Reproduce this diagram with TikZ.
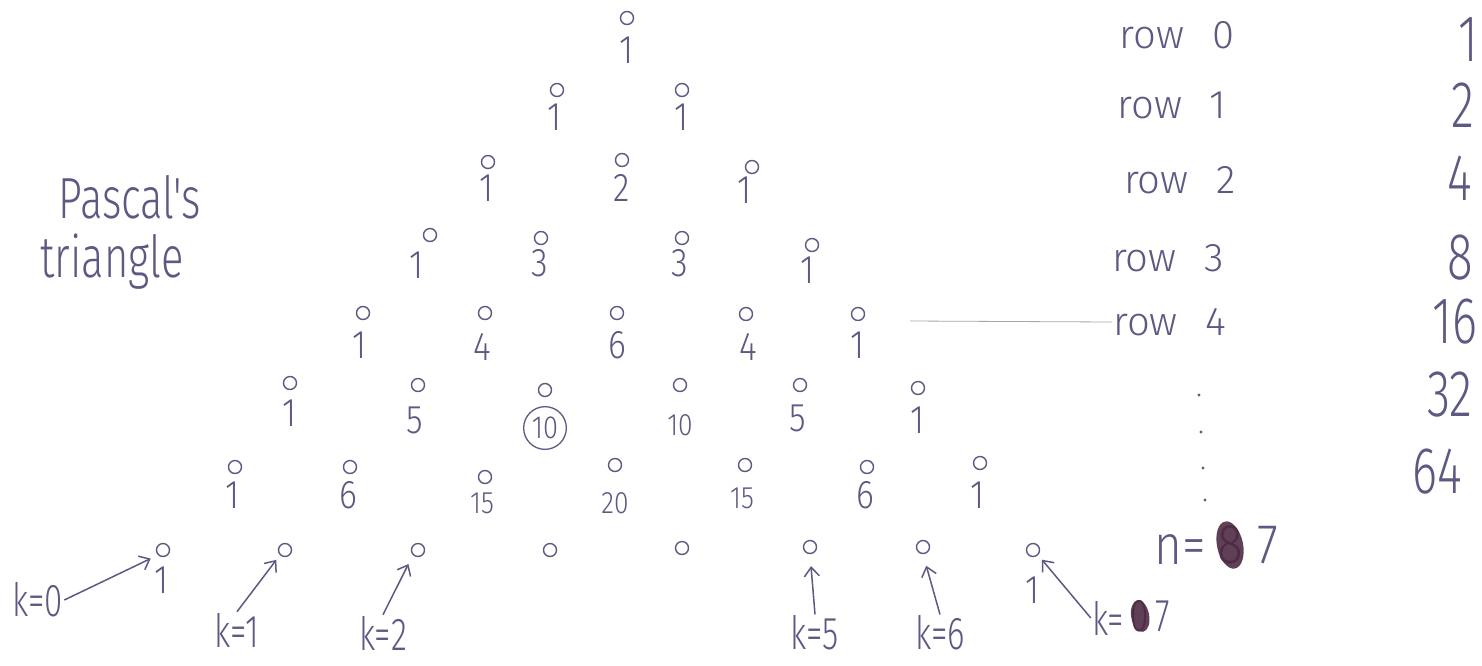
\documentclass[tikz,border=0pt]{standalone}
\usepackage{fontspec}
\usetikzlibrary{arrows.meta}
\IfFontExistsTF{Fira Sans Light}{%
  \setmainfont{Fira Sans Light}%
  \newfontfamily\handn[FakeStretch=0.72]{Fira Sans Light}%
  \newfontfamily\handm[FakeStretch=0.85]{Fira Sans Light}%
}{%
  \setmainfont{Liberation Sans}%
  \newfontfamily\handn[FakeStretch=0.72]{Liberation Sans}%
  \newfontfamily\handm[FakeStretch=0.85]{Liberation Sans}%
}
\definecolor{ink}{RGB}{92,90,130}
\definecolor{scrib}{RGB}{78,44,68}
\definecolor{guide}{RGB}{165,165,175}
\tikzset{
  dot/.style={circle,draw=ink,line width=1.4pt,minimum size=13pt,inner sep=0pt},
  num/.style={text=ink,inner sep=1pt,font=\handm\fontsize{40}{40}\selectfont},
  nums/.style={text=ink,inner sep=1pt,font=\handm\fontsize{31}{31}\selectfont},
  numc/.style={text=ink,circle,draw=ink,line width=1.3pt,inner sep=3pt,font=\handm\fontsize{32}{32}\selectfont},
  rowlab/.style={text=ink,inner sep=1pt,font=\fontsize{40}{40}\selectfont},
  sumlab/.style={text=ink,inner sep=1pt,font=\handn\fontsize{66}{66}\selectfont},
  klab/.style={text=ink,inner sep=1pt,font=\handn\fontsize{46}{46}\selectfont},
  nlab/.style={text=ink,inner sep=1pt,font=\handm\fontsize{56}{56}\selectfont},
  titlelab/.style={text=ink,inner sep=1pt,font=\handn\fontsize{58}{58}\selectfont},
  arr/.style={draw=ink,line width=1.5pt,-{Straight Barb[length=9pt,width=15pt]}},
  guideline/.style={draw=guide,line width=0.8pt},
  blob/.style={fill=scrib,fill opacity=0.9},
  vdot/.style={circle,fill=ink,inner sep=0pt,minimum size=3.2pt}
}
\begin{document}
\begin{tikzpicture}[x=1pt,y=-1pt]
\useasboundingbox (0,0) rectangle (1482,665);
\fill[white] (0,0) rectangle (1482,665);

% title
\node[titlelab] (t1) at (130,197) {Pascal's};
\node[titlelab] (t2) at (112,262) {triangle};

% small circles of the triangle
\foreach \nm/\x/\y in {00/627/18, 10/557/90, 11/682/90, 20/488/162, 21/622/160, 22/752/167,
  30/430/235, 31/541/238, 32/682/238, 33/812/245,
  40/363/313, 41/485/313, 42/617/313, 43/746/314, 44/858/314,
  50/290/383, 51/418/385, 52/545/390, 53/680/385, 54/800/385, 55/918/388,
  60/235/467, 61/350/467, 62/485/477, 63/615/465, 64/745/465, 65/867/467, 66/980/463,
  70/163/550, 71/285/550, 72/418/550, 73/550/550, 74/682/548, 75/810/547, 76/923/547, 77/1033/550}
  {\node[dot] (c\nm) at (\x,\y) {};}

% numbers
\foreach \nm/\x/\y/\t in {00/627/50/1, 10/555/117/1, 11/682/117/1,
  20/487/188/1, 21/622/188/2, 22/745/190/1,
  30/417/265/1, 31/540/263/3, 32/680/263/3, 33/808/270/1,
  40/360/345/1, 41/482/347/4, 42/617/345/6, 43/748/347/4, 44/858/345/1,
  50/290/413/1, 51/415/420/5, 54/798/418/5, 55/918/420/1,
  60/233/495/1, 61/348/495/6, 65/865/495/6, 66/978/495/1,
  70/162/580/1, 77/1033/590/1}
  {\node[num] (v\nm) at (\x,\y) {\t};}
\foreach \nm/\x/\y/\t in {53/680/425/10, 62/482/503/15, 63/615/503/20, 64/742/498/15}
  {\node[nums] (v\nm) at (\x,\y) {\t};}
\node[numc] (v52) at (545,428) {10};

% row labels
\node[rowlab] (row0) at (1177,35) {row\hspace{28pt}0};
\node[rowlab] (row1) at (1172,105) {row\hspace{28pt}1};
\node[rowlab] (row2) at (1180,180) {row\hspace{28pt}2};
\node[rowlab] (row3) at (1168,258) {row\hspace{28pt}3};
\node[rowlab] (row4) at (1170,322) {row\hspace{28pt}4};
\coordinate (g4) at (910,321);
\draw[guideline] (g4) -- (row4.west);

% vertical dots
\node[vdot] (d1) at (1199,395) {};
\node[vdot] (d2) at (1201,432) {};
\node[vdot] (d3) at (1203,468) {};
\node[vdot] (d4) at (1205,500) {};

% row sums
\node[sumlab] (s0) at (1468,40) {1};
\node[sumlab] (s1) at (1463,105) {2};
\node[sumlab] (s2) at (1460,178) {4};
\node[sumlab] (s3) at (1460,258) {8};
\node[sumlab] (s4) at (1455,322) {16};
\node[sumlab] (s5) at (1450,395) {32};
\node[sumlab] (s6) at (1437,472) {64};

% n = 87
\node[nlab] (neq) at (1180,550) {n=};
\node[nlab,text=scrib] (n8) at (1230,545) {8};
\fill[blob,rotate around={12:(n8.center)}] (n8.center) ellipse (13 and 24);
\node[nlab] (n7) at (1268,545) {7};

% k labels
\node[klab] (k0) at (38,600) {k=0};
\node[klab] (k1) at (237,630) {k=1};
\node[klab] (k2) at (383,633) {k=2};
\node[klab] (k5) at (815,633) {k=5};
\node[klab] (k6) at (940,633) {k=6};
\node[klab] (k7) at (1108,618) {k=};
\node[klab,text=scrib] (k70) at (1140,616) {0};
\fill[blob,rotate around={10:(k70.center)}] (k70.center) ellipse (9 and 16);
\node[klab] (k77) at (1163,616) {7};

% arrows
\draw[arr,shorten >=8pt] (k0.east) -- (c70.south west);
\draw[arr,shorten >=6pt] (k1.north) -- (c71.south west);
\draw[arr,shorten >=10pt] (k2.north) -- (c72.south west);
\draw[arr,shorten >=12pt] (k5.north) -- (c75.south);
\draw[arr,shorten >=12pt] (k6.north) -- (c76.south);
\draw[arr,shorten >=6pt] (k7.west) -- (c77.south east);
\end{tikzpicture}
\end{document}
